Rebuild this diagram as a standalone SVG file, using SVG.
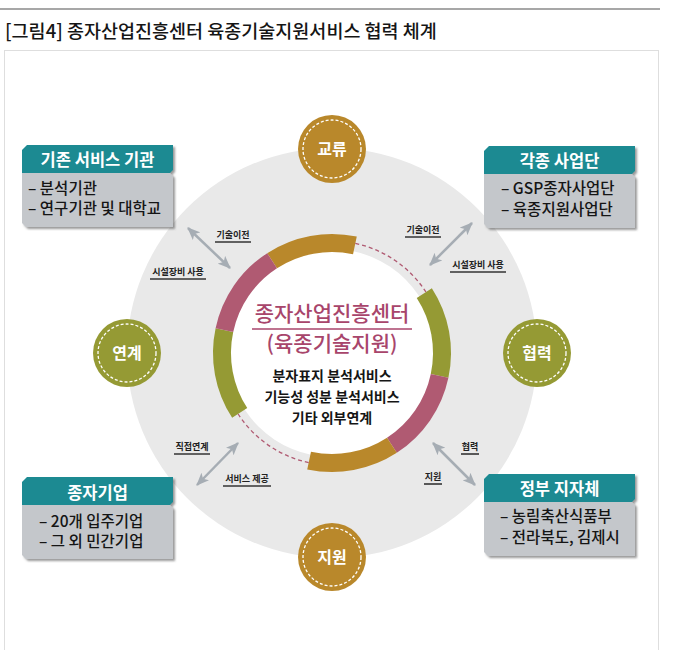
<svg xmlns="http://www.w3.org/2000/svg" width="680" height="650" viewBox="0 0 680 650">
<defs>
<style>
.kr{font-family:"Noto Sans CJK KR","Noto Sans",sans-serif}
.title{font-size:18.5px;font-weight:500;fill:#151515}
.hdr{fill:#1c8a92}
.body{fill:#c4c7cb}
.htxt{font-size:16.5px;font-weight:bold;fill:#fff;text-anchor:middle}
.btxt{font-size:15.5px;font-weight:500;fill:#151515}
.ctxt{font-size:16px;font-weight:bold;fill:#fff;text-anchor:middle}
.lbl{font-size:9px;font-weight:bold;fill:#222;text-anchor:middle}
.ul{stroke:#333;stroke-width:1.6}
.seg{fill:none;stroke-width:18}
.arr{stroke:#a6adb4;stroke-width:2.5;fill:none;marker-start:url(#ah);marker-end:url(#ah)}
.dash{fill:none;stroke:#fff;stroke-width:1.3;stroke-dasharray:3 2}
.mg{font-size:21px;font-weight:500;fill:#a8456b;text-anchor:middle}
.bk{font-size:14px;font-weight:bold;fill:#151515;text-anchor:middle}
</style>
<marker id="ah" viewBox="0 0 12 10" refX="11" refY="5" markerWidth="13" markerHeight="11" markerUnits="userSpaceOnUse" orient="auto-start-reverse">
<path d="M0,0 L12,5 L0,10 L3,5 Z" fill="#a6adb4"/>
</marker>
<filter id="sh" x="-10%" y="-10%" width="130%" height="130%">
<feDropShadow dx="2" dy="2" stdDeviation="1" flood-color="#555" flood-opacity="0.6"/>
</filter>
<g id="box">
<path class="hdr" d="M5,0 H151 V25 L148,28 H0 V5 Z"/>
<path class="body" d="M0,28 H148 L151,31 V82 H4 L0,78 Z"/>
</g>
</defs>
<rect width="680" height="650" fill="#fff"/>
<line x1="0" y1="9" x2="660" y2="9" stroke="#8a8a8a" stroke-width="1.3"/>
<text class="kr title" x="5" y="38">[그림4] 종자산업진흥센터 육종기술지원서비스 협력 체계</text>
<rect x="4.5" y="50.5" width="654" height="620" fill="none" stroke="#dedede" stroke-width="1"/>

<g id="backdrop">
<circle cx="332" cy="353" r="205" fill="#e9e9e9"/>
<circle cx="332" cy="353" r="104" fill="#fff"/>
</g>

<g id="ring">
<path class="seg" stroke="#b9882b" d="M272.1,260.7 A110,110 0 0 1 354.9,245.4"/>
<path class="seg" stroke="#959a34" d="M424.3,293.1 A110,110 0 0 1 439.6,375.9"/>
<path class="seg" stroke="#b05a72" d="M439.6,375.9 A110,110 0 0 1 391.9,445.3"/>
<path class="seg" stroke="#b9882b" d="M391.9,445.3 A110,110 0 0 1 309.1,460.6"/>
<path class="seg" stroke="#959a34" d="M239.7,412.9 A110,110 0 0 1 224.4,330.1"/>
<path class="seg" stroke="#b05a72" d="M224.4,330.1 A110,110 0 0 1 272.1,260.7"/>
<path fill="none" stroke="#b05a72" stroke-width="1.3" stroke-dasharray="4 3" d="M355.3,243.4 A112,112 0 0 1 425.9,292.0"/>
<path fill="none" stroke="#b05a72" stroke-width="1.3" stroke-dasharray="4 3" d="M308.7,462.6 A112,112 0 0 1 238.1,414.0"/>
</g>

<g id="center" class="kr">
<text class="mg" x="332" y="321">종자산업진흥센터</text>
<line x1="252" y1="329" x2="412" y2="329" stroke="#a8456b" stroke-width="1.4"/>
<text class="mg" x="332" y="351">(육종기술지원)</text>
<text class="bk" x="332" y="381">분자표지 분석서비스</text>
<text class="bk" x="332" y="402">기능성 성분 분석서비스</text>
<text class="bk" x="332" y="423">기타 외부연계</text>
</g>

<g id="c-gyoryu" class="kr">
<circle cx="332" cy="149" r="34" fill="#b9882b"/>
<circle class="dash" cx="332" cy="149" r="29"/>
<text class="ctxt" x="332" y="155">교류</text>
</g>
<g id="c-yeongye" class="kr">
<circle cx="127" cy="353" r="34" fill="#959a34"/>
<circle class="dash" cx="127" cy="353" r="29"/>
<text class="ctxt" x="127" y="359">연계</text>
</g>
<g id="c-hyeopryeok" class="kr">
<circle cx="537" cy="353" r="34" fill="#959a34"/>
<circle class="dash" cx="537" cy="353" r="29"/>
<text class="ctxt" x="537" y="359">협력</text>
</g>
<g id="c-jiwon" class="kr">
<circle cx="332" cy="557" r="34" fill="#b9882b"/>
<circle class="dash" cx="332" cy="557" r="29"/>
<text class="ctxt" x="332" y="563">지원</text>
</g>

<g id="connectors">
<line class="arr" x1="188" y1="228" x2="230" y2="268"/>
<line class="arr" x1="472" y1="223" x2="430" y2="265"/>
<line class="arr" x1="238" y1="443" x2="197" y2="485"/>
<line class="arr" x1="433" y1="443" x2="475" y2="485"/>
<g class="kr">
<text class="lbl" x="233" y="238">기술이전</text><line class="ul" x1="215" y1="242" x2="251" y2="242"/>
<text class="lbl" x="178" y="275">시설장비 사용</text><line class="ul" x1="150" y1="279" x2="206" y2="279"/>
<text class="lbl" x="423" y="233">기술이전</text><line class="ul" x1="405" y1="237" x2="441" y2="237"/>
<text class="lbl" x="478" y="268">시설장비 사용</text><line class="ul" x1="450" y1="272" x2="506" y2="272"/>
<text class="lbl" x="192" y="450">직접연계</text><line class="ul" x1="174" y1="454" x2="210" y2="454"/>
<text class="lbl" x="247" y="482">서비스 제공</text><line class="ul" x1="223" y1="486" x2="271" y2="486"/>
<text class="lbl" x="470" y="450">협력</text><line class="ul" x1="461" y1="454" x2="479" y2="454"/>
<text class="lbl" x="433" y="480">지원</text><line class="ul" x1="424" y1="484" x2="442" y2="484"/>
</g>
</g>

<g id="box-existing" class="kr" transform="translate(22,145)">
<use href="#box" filter="url(#sh)"/>
<text class="htxt" x="75.5" y="21">기존 서비스 기관</text>
<text class="btxt" x="6" y="49">– 분석기관</text>
<text class="btxt" x="6" y="69">– 연구기관 및 대학교</text>
</g>
<g id="box-projects" class="kr" transform="translate(484,146)">
<use href="#box" filter="url(#sh)"/>
<text class="htxt" x="75.5" y="21">각종 사업단</text>
<text class="btxt" x="17" y="48">– GSP종자사업단</text>
<text class="btxt" x="17" y="69">– 육종지원사업단</text>
</g>
<g id="box-companies" class="kr" transform="translate(22,477)">
<use href="#box" filter="url(#sh)"/>
<text class="htxt" x="75.5" y="22">종자기업</text>
<text class="btxt" x="17" y="50">– 20개 입주기업</text>
<text class="btxt" x="17" y="70">– 그 외 민간기업</text>
</g>
<g id="box-government" class="kr" transform="translate(484,474)">
<use href="#box" filter="url(#sh)"/>
<text class="htxt" x="75.5" y="21">정부 지자체</text>
<text class="btxt" x="16" y="48">– 농림축산식품부</text>
<text class="btxt" x="16" y="69">– 전라북도, 김제시</text>
</g>
</svg>
